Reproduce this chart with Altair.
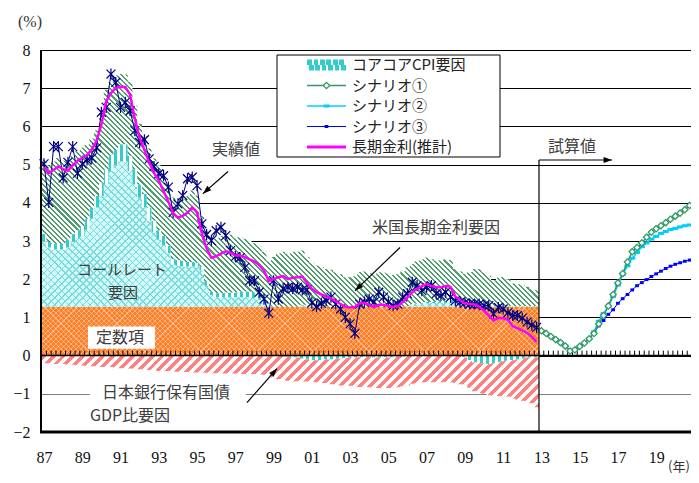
import math
import altair as alt
import pandas as pd

# ---------------- values (quarterly, 1987Q1-2012Q4) ----------------
constant_term = [1.28] * 104

call_rate = [
    1.70, 1.55, 1.50, 1.50, 1.50, 1.55, 1.70, 1.80, 1.85, 2.00, 2.30, 2.60,
    2.90, 3.20, 3.55, 3.70, 3.80, 3.80, 3.55, 3.20, 2.85, 2.60, 2.25, 1.95,
    1.75, 1.60, 1.40, 1.10, 1.07, 1.05, 1.05, 1.05, 1.05, 0.95, 0.55, 0.30,
    0.25, 0.25, 0.25, 0.25, 0.25, 0.25, 0.25, 0.25, 0.22, 0.18, 0.10, 0.03,
    0.00, 0.00, 0.00, 0.00, 0.00, 0.00, 0.05, 0.05, 0.03, 0.00, 0.00, 0.00,
    0.00, 0.00, 0.00, 0.00, 0.00, 0.00, 0.00, 0.00, 0.00, 0.00, 0.00, 0.00,
    0.00, 0.00, 0.00, 0.00, 0.02, 0.05, 0.08, 0.08, 0.10, 0.10, 0.10, 0.10,
    0.10, 0.10, 0.10, 0.06, 0.02, 0.02, 0.02, 0.02, 0.02, 0.02, 0.02, 0.02,
    0.02, 0.02, 0.02, 0.02, 0.02, 0.02, 0.02, 0.02,
]

core_cpi = [
    0.20, 0.15, 0.15, 0.15, 0.15, 0.20, 0.20, 0.20, 0.25, 0.30, 0.30, 0.30,
    0.35, 0.40, 0.40, 0.40, 0.45, 0.45, 0.40, 0.40, 0.35, 0.35, 0.35, 0.30,
    0.25, 0.25, 0.20, 0.15, 0.15, 0.15, 0.12, 0.12, 0.10, 0.10, 0.10, 0.10,
    0.10, 0.10, 0.12, 0.12, 0.12, 0.15, 0.15, 0.15, 0.15, 0.12, 0.10, 0.08,
    0.02, 0.00, -0.02, -0.03, -0.05, -0.05, -0.08, -0.10, -0.12, -0.12, -0.12, -0.10,
    -0.10, -0.08, -0.08, -0.06, -0.05, -0.05, -0.04, -0.04, -0.03, -0.05, -0.05, -0.04,
    -0.05, -0.04, -0.03, -0.02, 0.00, 0.02, 0.02, 0.02, 0.02, 0.02, 0.02, 0.03,
    0.05, 0.08, 0.10, 0.05, -0.05, -0.12, -0.18, -0.20, -0.20, -0.22, -0.20, -0.18,
    -0.15, -0.12, -0.12, -0.10, -0.08, -0.05, -0.05, -0.05,
]

us_rate = [
    1.95, 2.00, 2.15, 2.24, 2.17, 2.05, 2.04, 2.07, 2.06, 1.94, 1.80, 1.72,
    1.82, 2.08, 1.94, 1.95, 1.84, 1.83, 1.94, 1.67, 1.59, 1.52, 1.55, 1.63,
    1.70, 1.57, 1.55, 1.61, 1.53, 1.61, 1.72, 1.87, 1.76, 1.32, 1.32, 1.34,
    1.43, 1.50, 1.55, 1.52, 1.44, 1.42, 1.38, 1.32, 1.29, 1.28, 1.24, 1.08,
    1.28, 1.39, 1.44, 1.38, 1.44, 1.44, 1.42, 1.25, 1.12, 1.08, 1.04, 0.99,
    0.97, 0.90, 0.85, 0.78, 0.77, 0.80, 0.91, 0.92, 0.88, 0.84, 0.90, 0.89,
    0.87, 0.83, 0.85, 0.92, 1.01, 1.05, 1.09, 1.14, 1.17, 1.12, 1.09, 1.08,
    1.09, 1.04, 0.79, 0.81, 0.84, 0.89, 0.97, 0.96, 0.88, 0.79, 0.67, 0.74,
    0.76, 0.70, 0.59, 0.57, 0.54, 0.50, 0.44, 0.41,
]

boj_jgb = [
    -0.20, -0.20, -0.22, -0.22, -0.22, -0.24, -0.24, -0.25, -0.26, -0.27, -0.28, -0.28,
    -0.30, -0.30, -0.30, -0.32, -0.33, -0.33, -0.34, -0.35, -0.36, -0.37, -0.38, -0.38,
    -0.40, -0.40, -0.40, -0.42, -0.42, -0.43, -0.43, -0.44, -0.44, -0.45, -0.45, -0.46,
    -0.46, -0.46, -0.47, -0.47, -0.47, -0.48, -0.48, -0.48, -0.48, -0.49, -0.50, -0.52,
    -0.58, -0.62, -0.62, -0.63, -0.63, -0.62, -0.60, -0.58, -0.56, -0.58, -0.60, -0.62,
    -0.65, -0.68, -0.70, -0.72, -0.74, -0.76, -0.78, -0.78, -0.80, -0.80, -0.80, -0.80,
    -0.80, -0.80, -0.80, -0.78, -0.78, -0.74, -0.72, -0.70, -0.70, -0.70, -0.70, -0.70,
    -0.70, -0.70, -0.72, -0.75, -0.72, -0.72, -0.75, -0.78, -0.80, -0.82, -0.85, -0.88,
    -0.92, -0.95, -1.00, -1.05, -1.10, -1.15, -1.20, -1.30,
]

estimate = [
    4.93, 4.78, 4.86, 4.95, 4.88, 4.84, 4.98, 5.10, 5.18, 5.25, 5.40, 5.62,
    6.05, 6.66, 6.87, 7.01, 7.04, 7.03, 6.83, 6.20, 5.71, 5.38, 5.05, 4.78,
    4.58, 4.30, 4.03, 3.72, 3.61, 3.66, 3.74, 3.88, 3.75, 3.20, 2.80, 2.56,
    2.60, 2.67, 2.73, 2.70, 2.62, 2.62, 2.58, 2.52, 2.46, 2.37, 2.22, 1.95,
    2.00, 2.05, 2.08, 2.00, 2.04, 2.05, 2.07, 1.90, 1.75, 1.66, 1.60, 1.55,
    1.50, 1.42, 1.35, 1.28, 1.26, 1.27, 1.37, 1.38, 1.33, 1.27, 1.33, 1.33,
    1.30, 1.27, 1.30, 1.40, 1.53, 1.66, 1.75, 1.82, 1.87, 1.82, 1.79, 1.79,
    1.82, 1.80, 1.55, 1.45, 1.37, 1.35, 1.34, 1.28, 1.18, 1.05, 0.92, 0.98,
    0.99, 0.93, 0.77, 0.72, 0.66, 0.60, 0.49, 0.36,
]

actual = [
    5.02, 4.01, 5.47, 5.47, 4.65, 5.06, 5.47, 4.77, 5.02, 5.12, 5.17, 5.44,
    6.37, 6.50, 7.37, 7.15, 6.50, 6.63, 6.41, 5.89, 5.58, 5.65, 5.15, 4.95,
    4.76, 4.71, 4.41, 3.75, 3.97, 4.19, 4.63, 4.67, 4.45, 3.45, 3.17, 3.01,
    3.27, 3.36, 3.14, 2.75, 2.59, 2.56, 2.31, 1.96, 1.96, 1.66, 1.48, 1.11,
    1.96, 1.48, 1.75, 1.79, 1.75, 1.79, 1.72, 1.72, 1.38, 1.28, 1.37, 1.44,
    1.53, 1.35, 1.22, 1.00, 0.83, 0.58, 1.35, 1.40, 1.48, 1.40, 1.66, 1.53,
    1.40, 1.31, 1.35, 1.53, 1.62, 1.92, 1.83, 1.70, 1.79, 1.83, 1.62, 1.57,
    1.66, 1.53, 1.44, 1.40, 1.38, 1.35, 1.35, 1.35, 1.31, 1.31, 1.09, 1.26,
    1.22, 1.12, 1.05, 1.05, 0.98, 0.88, 0.80, 0.74,
]

# ---------------- scenarios (quarterly, 2013Q1-2020Q4) ----------------
scenario1 = [
    0.65, 0.58, 0.50, 0.42, 0.34, 0.25, 0.12, 0.15, 0.24, 0.33, 0.44, 0.58,
    0.83, 1.05, 1.30, 1.60, 1.90, 2.15, 2.45, 2.72, 2.83, 2.95, 3.10, 3.23,
    3.32, 3.40, 3.48, 3.57, 3.65, 3.73, 3.82, 3.93,
]
scenario2 = [
    0.65, 0.58, 0.50, 0.42, 0.34, 0.25, 0.12, 0.15, 0.24, 0.33, 0.44, 0.62,
    0.90, 1.10, 1.28, 1.55, 1.85, 2.12, 2.35, 2.55, 2.70, 2.85, 2.95, 3.05,
    3.12, 3.20, 3.25, 3.30, 3.33, 3.37, 3.40, 3.42,
]
scenario3 = [
    0.65, 0.58, 0.50, 0.42, 0.34, 0.25, 0.12, 0.15, 0.24, 0.33, 0.44, 0.60,
    0.78, 0.92, 1.08, 1.20, 1.37, 1.49, 1.60, 1.72, 1.83, 1.91, 1.99, 2.07,
    2.14, 2.21, 2.28, 2.34, 2.39, 2.43, 2.47, 2.50,
]

year_ticks = list(range(1987, 2021, 2))
y_ticks = list(range(-2, 9))

legend_labels = ["コアコアCPI要因", "シナリオ①", "シナリオ②", "シナリオ③", "長期金利(推計)"]

# ---------------- geometry / styling ----------------
W, H = 650, 382
PXYR = 19.13
X0 = 1987 - 3 / PXYR
X1 = X0 + W / PXYR
PXU = H / 10.0
FONT_JP = "Noto Sans CJK JP"
FONT_NUM = "Liberation Serif"
TXT = "#404040"

xs = alt.Scale(domain=[X0, X1], nice=False, zero=False)
ys = alt.Scale(domain=[-2, 8], nice=False, zero=False)

XAX = alt.Axis(values=year_ticks, labelExpr="substring(toString(datum.value), 2)", grid=False,
               domain=False, ticks=False, tickSize=0, labelPadding=17, labelFont=FONT_NUM,
               labelFontSize=16, labelColor="#111111", title="", labelFlush=False)
YAX = alt.Axis(values=y_ticks, grid=True,
               gridColor={"condition": {"test": "datum.value == -1", "value": "#7f7f7f"},
                          "value": "#000000"},
               gridWidth=1, domain=False, ticks=False, tickSize=0, labelPadding=11,
               labelFont=FONT_NUM, labelFontSize=16, labelColor="#111111", title="")


def X(field):
    return alt.X(field, scale=xs, axis=XAX)


def Y(field):
    return alt.Y(field, scale=ys, axis=YAX)


n = len(actual)
t_mid = [1987 + i / 4 for i in range(n)]
t_left = [v - 0.125 for v in t_mid] + [t_mid[-1] + 0.125]


def ext(v):
    return list(v) + [v[-1]]


call_hi = [a + b for a, b in zip(constant_term, call_rate)]
cpi_hi = [a + max(b, 0) for a, b in zip(call_hi, core_cpi)]
us_hi = [a + b for a, b in zip(cpi_hi, us_rate)]
cpi_neg = [min(b, 0) for b in core_cpi]
boj_lo = [a + b for a, b in zip(cpi_neg, boj_jgb)]
zeros = [0.0] * n


def band_df(lo, hi):
    return pd.DataFrame({"x": t_left, "lo": ext(lo), "hi": ext(hi)})


def stripes(col_a, col_b, w, h, period, frac, downward):
    L = w + h
    cnt = L / (math.sqrt(2) * period)
    a, b = w / L, h / L
    s = a * a + b * b
    stops = []
    k = 0
    while k < cnt:
        t0 = round(k / cnt, 5)
        t1 = round(min((k + frac) / cnt, 1), 5)
        t2 = round(min((k + 1) / cnt, 1), 5)
        stops += [{"offset": t0, "color": col_a}, {"offset": t1, "color": col_a},
                  {"offset": t1, "color": col_b}, {"offset": t2, "color": col_b}]
        k += 1
    if downward:
        return {"gradient": "linear", "stops": stops, "x1": 0, "y1": 1,
                "x2": a / s, "y2": 1 - b / s}
    return {"gradient": "linear", "stops": stops, "x1": 0, "y1": 0, "x2": a / s, "y2": b / s}


def bars(col_a, col_b, w, period, frac):
    cnt = w / period
    stops = []
    k = 0
    while k < cnt:
        t0 = round(k / cnt, 5)
        t1 = round(min((k + frac) / cnt, 1), 5)
        t2 = round(min((k + 1) / cnt, 1), 5)
        stops += [{"offset": t0, "color": col_a}, {"offset": t1, "color": col_a},
                  {"offset": t1, "color": col_b}, {"offset": t2, "color": col_b}]
        k += 1
    return {"gradient": "linear", "stops": stops, "x1": 0, "y1": 0, "x2": 1, "y2": 0}


BW = (t_left[-1] - t_left[0]) * PXYR


def bh(lo, hi):
    return (max(max(lo), max(hi)) - min(min(lo), min(hi))) * PXU


def band(df, fill):
    return alt.Chart(df).mark_area(interpolate="step-after", fill=fill, opacity=1).encode(
        x=X("x:Q"), y=Y("lo:Q"), y2="hi:Q")


one = pd.DataFrame({"a": [0]})
CLEAR = "rgba(255,255,255,0)"

# ---- stacked factor bands ----
const_df = band_df(zeros, constant_term)
call_df = band_df(constant_term, call_hi)
cpi_df = band_df(call_hi, cpi_hi)
us_df = band_df(cpi_hi, us_hi)
cpin_df = band_df(zeros, cpi_neg)
boj_df = band_df(cpi_neg, boj_lo)

h_const = bh(zeros, constant_term)
h_call = bh(constant_term, call_hi)
h_us = bh(cpi_hi, us_hi)
h_boj = bh(cpi_neg, boj_lo)

layers = [
    band(const_df, "#FF7F27"),
    band(const_df, stripes("rgba(255,255,255,0.4)", CLEAR, BW, h_const, 3.6, 0.22, True)),
    band(const_df, stripes("rgba(255,255,255,0.4)", CLEAR, BW, h_const, 3.6, 0.22, False)),
    band(call_df, "#D2FAFA"),
    band(call_df, stripes("#7AD9D9", CLEAR, BW, h_call, 5.0, 0.22, True)),
    band(call_df, stripes("#7AD9D9", CLEAR, BW, h_call, 5.0, 0.22, False)),
    band(cpi_df, "#FFFFFF"),
    band(cpi_df, bars("#33CCCC", CLEAR, BW, 6.0, 0.6)),
    band(us_df, stripes("#4F9C6C", "#FFFFFF", BW, h_us, 3.6, 0.42, True)),
    band(cpin_df, "#FFFFFF"),
    band(cpin_df, bars("#33CCCC", CLEAR, BW, 6.0, 0.6)),
    band(boj_df, stripes("#FF8080", "#FFFFFF", BW, h_boj, 7.0, 0.5, False)),
]

# ---- zero line with category ticks, plot borders ----
zt = []
v = t_left[0]
while v < X1:
    zt.append(v)
    v += 0.25
zero_ticks = pd.DataFrame({"x": zt, "y0": [0.0] * len(zt), "y1": [0.13] * len(zt)})
layers.append(alt.Chart(zero_ticks).mark_rule(color="#000000", strokeWidth=1).encode(
    x=X("x:Q"), y=Y("y0:Q"), y2="y1:Q"))
layers.append(alt.Chart(pd.DataFrame({"y": [0.0]})).mark_rule(color="#000000", strokeWidth=1.5).encode(
    x=alt.value(0), x2=alt.value(W), y=Y("y:Q")))
layers.append(alt.Chart(one).mark_rule(color="#000000", strokeWidth=2).encode(
    x=alt.value(0), y=alt.value(0), y2=alt.value(H)))
layers.append(alt.Chart(one).mark_rule(color="#000000", strokeWidth=3).encode(
    x=alt.value(-1), x2=alt.value(W), y=alt.value(H)))

# ---- lines ----
act_df = pd.DataFrame({"x": t_mid, "y": actual})
est_df = pd.DataFrame({"x": t_mid, "y": estimate})
ts = [2013 + j / 4 for j in range(len(scenario1))]
s1 = pd.DataFrame({"x": ts, "y": scenario1})
s2 = pd.DataFrame({"x": ts, "y": scenario2})
s3 = pd.DataFrame({"x": ts, "y": scenario3})

STAR = "M-1,-1L1,1M-1,1L1,-1M0,-1.25L0,1.25"
DASH = "M-1,0L1,0"


def xy():
    return dict(x=X("x:Q"), y=Y("y:Q"))


layers += [
    alt.Chart(act_df).mark_line(color="#000080", strokeWidth=1).encode(**xy()),
    alt.Chart(act_df).mark_point(shape=STAR, size=80, filled=False, color="#000080",
                                 strokeWidth=1.2, opacity=1).encode(**xy()),
    alt.Chart(est_df).mark_line(color="#FF00FF", strokeWidth=2.5).encode(**xy()),
    alt.Chart(s3).mark_line(color="#0000FF", strokeWidth=1).encode(**xy()),
    alt.Chart(s3).mark_point(shape=DASH, size=14, filled=False, color="#0000FF",
                             strokeWidth=3, opacity=1).encode(**xy()),
    alt.Chart(s2).mark_line(color="#00CCFF", strokeWidth=1.5).encode(**xy()),
    alt.Chart(s2).mark_point(shape=DASH, size=36, filled=False, color="#00CCFF",
                             strokeWidth=3, opacity=1).encode(**xy()),
    alt.Chart(s1).mark_line(color="#339966", strokeWidth=1.5).encode(**xy()),
    alt.Chart(s1).mark_point(shape="diamond", size=40, filled=True, fill="#FFFFFF",
                             stroke="#339966", strokeWidth=1.3, opacity=1).encode(**xy()),
]

# ---- annotations ----
HEAD = "M0,0L-0.75,2.1L0.75,2.1Z"


def px_angle(xa, ya, xb, yb):
    dx = (xb - xa) * PXYR
    dy = -(yb - ya) * PXU
    return math.degrees(math.atan2(dx, -dy)) % 360


arrows = [
    (1996.62, 4.82, 1995.31, 4.24),
    (2005.61, 2.83, 2003.26, 1.70),
    (1997.61, -1.23, 1999.18, -0.34),
    (2012.875, 5.12, 2016.69, 5.12),
]
arr_df = pd.DataFrame({
    "x": [a[0] for a in arrows], "y": [a[1] for a in arrows],
    "x2": [a[2] for a in arrows], "y2": [a[3] for a in arrows],
    "ang": [px_angle(*a) for a in arrows],
})
layers.append(alt.Chart(arr_df).mark_rule(color="#000000", strokeWidth=1.2).encode(
    x=X("x:Q"), y=Y("y:Q"), x2="x2:Q", y2="y2:Q"))
layers.append(alt.Chart(pd.DataFrame({"x": [2012.875], "y": [-2.0], "y2": [5.12]})).mark_rule(
    color="#000000", strokeWidth=1.2).encode(x=X("x:Q"), y=Y("y:Q"), y2="y2:Q"))
layers.append(alt.Chart(arr_df).mark_point(shape=HEAD, size=64, filled=True, color="#000000",
                                           opacity=1).encode(
    x=X("x2:Q"), y=Y("y2:Q"), angle=alt.Angle("ang:Q", scale=None)))

boxes = pd.DataFrame({"x": [1989.30, 1989.40], "x2": [1992.80, 1997.55],
                      "y": [0.76, -0.85], "y2": [0.18, -1.13]})
layers.append(alt.Chart(boxes).mark_rect(color="#FFFFFF", opacity=1).encode(
    x=X("x:Q"), x2="x2:Q", y=Y("y:Q"), y2="y2:Q"))

notes = pd.DataFrame({
    "label": ["実績値", "米国長期金利要因", "定数項", "日本銀行保有国債", "試算値"],
    "x": [1997.04, 2007.49, 1990.97, 1993.38, 2014.6],
    "y": [5.37, 3.35, 0.47, -0.99, 5.45],
})
layers.append(alt.Chart(notes).mark_text(font=FONT_JP, fontSize=16, color=TXT, baseline="middle",
                                         align="center").encode(
    x=X("x:Q"), y=Y("y:Q"), text="label:N"))
call_note = pd.DataFrame({"label": ["コールレート", "要因"], "x": [1991.08, 1991.13], "y": [2.24, 1.64]})
layers.append(alt.Chart(call_note).mark_text(font=FONT_JP, fontSize=15, color=TXT, baseline="middle",
                                             align="center").encode(
    x=X("x:Q"), y=Y("y:Q"), text="label:N"))
layers.append(alt.Chart(pd.DataFrame({"label": ["GDP比要因"], "x": [1989.40], "y": [-1.57]})).mark_text(
    font=FONT_JP, fontSize=16, color=TXT, baseline="middle", align="left").encode(
    x=X("x:Q"), y=Y("y:Q"), text="label:N"))

# unit labels
layers.append(alt.Chart(one).mark_text(text="(%)", font=FONT_NUM, fontSize=16, color="#333333",
                                       baseline="middle").encode(x=alt.value(-11), y=alt.value(-28)))
layers.append(alt.Chart(one).mark_text(text="(年)", font=FONT_JP, fontSize=13, color="#333333",
                                       baseline="middle").encode(x=alt.value(638), y=alt.value(417)))

# ---- legend ----
LX0, LX1, LY0, LY1 = 236, 459, 5, 107
rows = [15, 35.5, 56, 76.5, 97]
SW0, SW1, SWC, LT = 266, 305, 285.5, 311
layers.append(alt.Chart(one).mark_rect(fill="#FFFFFF", stroke="#000000", strokeWidth=1).encode(
    x=alt.value(LX0), x2=alt.value(LX1), y=alt.value(LY0), y2=alt.value(LY1)))


def checker(phase):
    stops = []
    m = 6
    for k in range(m):
        a = k / m
        c = (k + 1) / m
        if phase == 0:
            b = (k + 0.72) / m
            stops += [{"offset": round(a, 4), "color": "#33CCCC"}, {"offset": round(b, 4), "color": "#33CCCC"},
                      {"offset": round(b, 4), "color": "#FFFFFF"}, {"offset": round(c, 4), "color": "#FFFFFF"}]
        else:
            b = (k + 0.28) / m
            stops += [{"offset": round(a, 4), "color": "#FFFFFF"}, {"offset": round(b, 4), "color": "#FFFFFF"},
                      {"offset": round(b, 4), "color": "#33CCCC"}, {"offset": round(c, 4), "color": "#33CCCC"}]
    return {"gradient": "linear", "stops": stops, "x1": 0, "y1": 0, "x2": 1, "y2": 0}


layers.append(alt.Chart(one).mark_rect(fill=checker(0)).encode(
    x=alt.value(SW0), x2=alt.value(SW1), y=alt.value(rows[0] - 5.5), y2=alt.value(rows[0])))
layers.append(alt.Chart(one).mark_rect(fill=checker(1)).encode(
    x=alt.value(SW0), x2=alt.value(SW1), y=alt.value(rows[0]), y2=alt.value(rows[0] + 5.5)))

sw_lines = [("#339966", 1.5, rows[1]), ("#00CCFF", 1.5, rows[2]), ("#0000FF", 1.2, rows[3]),
            ("#FF00FF", 3, rows[4])]
for col, wdt, ry in sw_lines:
    layers.append(alt.Chart(one).mark_rule(color=col, strokeWidth=wdt).encode(
        x=alt.value(SW0), x2=alt.value(SW1), y=alt.value(ry)))
layers.append(alt.Chart(one).mark_point(shape="diamond", size=40, filled=True, fill="#FFFFFF",
                                        stroke="#339966", strokeWidth=1.3, opacity=1).encode(
    x=alt.value(SWC), y=alt.value(rows[1])))
layers.append(alt.Chart(one).mark_point(shape=DASH, size=36, filled=False, color="#00CCFF",
                                        strokeWidth=3, opacity=1).encode(
    x=alt.value(SWC), y=alt.value(rows[2])))
layers.append(alt.Chart(one).mark_point(shape=DASH, size=14, filled=False, color="#0000FF",
                                        strokeWidth=3, opacity=1).encode(
    x=alt.value(SWC), y=alt.value(rows[3])))
for lab, ry in zip(legend_labels, rows):
    layers.append(alt.Chart(one).mark_text(text=lab, font=FONT_JP, fontSize=15, color="#222222",
                                           align="left", baseline="middle").encode(
        x=alt.value(LT), y=alt.value(ry)))

chart = alt.layer(*layers).properties(
    width=W, height=H,
    padding={"left": 33, "top": 42, "right": 0, "bottom": 42},
    autosize=alt.AutoSizeParams(type="none"),
    background="#FFFFFF",
).configure_view(strokeWidth=0)

chart.save("out.html", embed_options={"renderer": "svg", "actions": False})
